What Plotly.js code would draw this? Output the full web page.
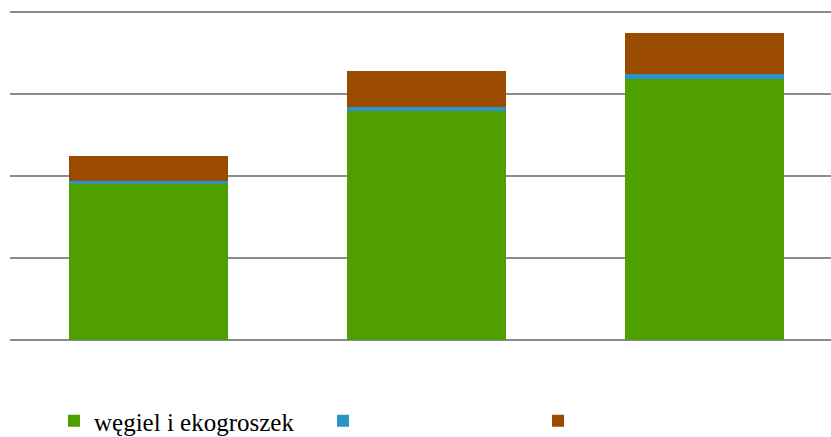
<!DOCTYPE html>
<html>
<head>
<meta charset="utf-8">
<script src="https://cdn.plot.ly/plotly-3.0.1.min.js"></script>
<style>
html, body { margin: 0; padding: 0; overflow: hidden; background: #fff; }
#chart { width: 831px; height: 437px; }
</style>
</head>
<body>
<div id="chart"></div>
<script>
// Data (values in arbitrary units; gridlines every 100)
var categories = ["1", "2", "3"];
var seriesNames = ["węgiel i ekogroszek", "", ""];
var coalValues = [190.6, 278.9, 318.5];
var blueValues = [3.3, 5.2, 6.0];
var brownValues = [30.5, 44.3, 50.4];
var yTicks = [0, 100, 200, 300, 400];

var colors = ["#4f9f00", "#2a93c8", "#9a4b00"];

var traces = [
  { type: "bar", x: categories, y: coalValues, name: seriesNames[0],
    marker: { color: colors[0], line: { width: 0 } }, legend: "legend" },
  { type: "bar", x: categories, y: blueValues, name: seriesNames[1],
    marker: { color: colors[1], line: { width: 0 } }, legend: "legend2" },
  { type: "bar", x: categories, y: brownValues, name: seriesNames[2],
    marker: { color: colors[2], line: { width: 0 } }, legend: "legend3" }
];

var legendFont = { family: "Times New Roman, Liberation Serif, serif", size: 25, color: "#000" };
function leg(px) {
  return {
    xref: "container", yref: "container",
    x: px / 831, y: 1 - 421 / 437,
    xanchor: "left", yanchor: "middle",
    orientation: "h", bgcolor: "rgba(0,0,0,0)",
    font: legendFont, borderwidth: 0
  };
}

var layout = {
  width: 831, height: 437,
  font: { family: "Times New Roman, Liberation Serif, serif" },
  margin: { l: 10, r: 0, t: 8, b: 97, pad: 0 },
  paper_bgcolor: "#fff", plot_bgcolor: "#fff",
  barmode: "stack",
  bargap: 0.428,
  showlegend: true,
  legend: leg(54),
  legend2: leg(323),
  legend3: leg(538),
  xaxis: {
    type: "category",
    range: [-0.498, 2.455],
    showticklabels: false, ticks: "", showgrid: false, zeroline: false,
    showline: false, fixedrange: true
  },
  yaxis: {
    range: [0, 405],
    tickvals: yTicks,
    showticklabels: false, ticks: "",
    showgrid: true, gridcolor: "#8c8c8c", gridwidth: 2,
    zeroline: true, zerolinecolor: "#8c8c8c", zerolinewidth: 2,
    showline: false, fixedrange: true
  }
};

Plotly.newPlot("chart", traces, layout, { staticPlot: true, displayModeBar: false });
</script>
</body>
</html>
